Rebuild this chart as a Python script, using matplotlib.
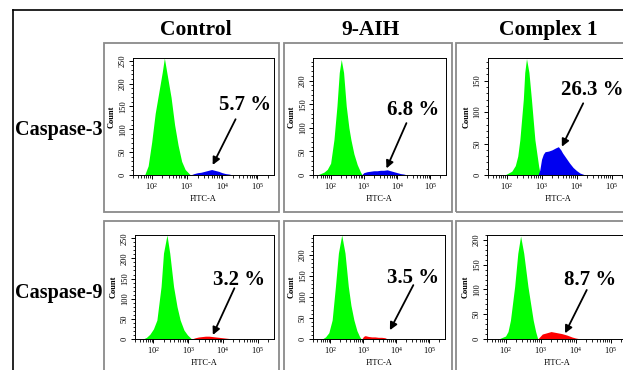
import numpy as np
import matplotlib
matplotlib.use('Agg')
import matplotlib.pyplot as plt
import matplotlib.ticker as mticker
from matplotlib.patches import Rectangle
from matplotlib.lines import Line2D

plt.rcParams['font.family'] = ['Liberation Serif', 'DejaVu Serif']
plt.rcParams['mathtext.fontset'] = 'stix'

# ---------------- data ----------------
treatments = ['Control', '9-AIH', 'Complex 1']
markers = ['Caspase-3', 'Caspase-9']
percent_labels = [['5.7 %', '6.8 %', '26.3 %'],
                  ['3.2 %', '3.5 %', '8.7 %']]

# log10(FITC-A) positions and counts, negative (green) population
c3_ctrl_neg_log = [1.80, 1.90, 2.00, 2.10, 2.20, 2.30, 2.36, 2.45, 2.55, 2.65, 2.75, 2.85, 2.95, 3.05, 3.10]
c3_ctrl_neg_cnt = [0, 20, 72, 135, 180, 225, 256, 215, 170, 110, 65, 30, 12, 4, 0]
c3_aih_neg_log = [1.60, 1.70, 1.80, 1.90, 2.00, 2.10, 2.19, 2.26, 2.32, 2.39, 2.47, 2.55, 2.61, 2.70, 2.80, 2.90, 2.95]
c3_aih_neg_cnt = [0, 3, 6, 12, 25, 75, 146, 217, 245, 217, 146, 100, 75, 45, 22, 6, 0]
c3_cx1_neg_log = [1.95, 2.05, 2.15, 2.25, 2.32, 2.38, 2.48, 2.52, 2.57, 2.64, 2.71, 2.81, 2.92, 2.97]
c3_cx1_neg_cnt = [0, 3, 6, 15, 30, 56, 121, 163, 185, 163, 121, 56, 13, 0]
c9_ctrl_neg_log = [1.70, 1.80, 1.90, 2.00, 2.10, 2.22, 2.29, 2.39, 2.47, 2.58, 2.68, 2.77, 2.88, 2.98, 3.10]
c9_ctrl_neg_cnt = [0, 4, 12, 25, 47, 130, 213, 258, 213, 130, 80, 47, 22, 10, 0]
c9_aih_neg_log = [1.75, 1.85, 1.95, 2.05, 2.15, 2.24, 2.34, 2.44, 2.54, 2.62, 2.71, 2.80, 2.88, 2.93]
c9_aih_neg_cnt = [0, 5, 15, 45, 125, 204, 247, 204, 125, 80, 45, 20, 6, 0]
c9_cx1_neg_log = [1.80, 1.90, 2.00, 2.07, 2.14, 2.26, 2.35, 2.43, 2.52, 2.64, 2.79, 2.86, 2.92]
c9_cx1_neg_cnt = [0, 3, 6, 15, 38, 106, 173, 208, 173, 106, 38, 15, 0]

# positive population (caspase-3 blue, caspase-9 red)
c3_ctrl_pos_log = [3.10, 3.20, 3.30, 3.40, 3.50, 3.60, 3.70, 3.80, 3.90, 4.00, 4.10, 4.20, 4.30]
c3_ctrl_pos_cnt = [0, 3, 5, 6, 8, 10, 12, 10, 8, 5, 3, 2, 0]
c3_aih_pos_log = [2.93, 3.00, 3.10, 3.20, 3.30, 3.40, 3.50, 3.60, 3.70, 3.80, 3.90, 4.00, 4.10, 4.20, 4.30]
c3_aih_pos_cnt = [0, 5, 7, 8, 9, 9, 10, 10, 11, 9, 7, 5, 3, 2, 0]
c3_cx1_pos_log = [2.90, 2.95, 3.00, 3.05, 3.10, 3.20, 3.30, 3.40, 3.48, 3.55, 3.60, 3.70, 3.80, 3.90, 4.00, 4.10, 4.20, 4.25]
c3_cx1_pos_cnt = [0, 8, 25, 33, 37, 38, 40, 43, 45, 40, 35, 27, 19, 12, 7, 3, 1, 0]
c9_ctrl_pos_log = [3.10, 3.20, 3.30, 3.40, 3.50, 3.60, 3.70, 3.80, 3.90, 4.00, 4.10, 4.20, 4.25]
c9_ctrl_pos_cnt = [0, 3, 5, 6, 7, 7, 6, 5, 4, 3, 2, 1, 0]
c9_aih_pos_log = [2.95, 3.00, 3.05, 3.15, 3.25, 3.35, 3.45, 3.55, 3.65, 3.73]
c9_aih_pos_cnt = [0, 6, 8, 6, 5, 5, 4, 4, 3, 0]
c9_cx1_pos_log = [2.92, 3.05, 3.15, 3.30, 3.45, 3.60, 3.75, 3.90, 4.00, 4.15]
c9_cx1_pos_cnt = [0, 10, 12, 15, 13, 11, 8, 4, 2, 0]

neg_series = [[(c3_ctrl_neg_log, c3_ctrl_neg_cnt), (c3_aih_neg_log, c3_aih_neg_cnt), (c3_cx1_neg_log, c3_cx1_neg_cnt)],
              [(c9_ctrl_neg_log, c9_ctrl_neg_cnt), (c9_aih_neg_log, c9_aih_neg_cnt), (c9_cx1_neg_log, c9_cx1_neg_cnt)]]
pos_series = [[(c3_ctrl_pos_log, c3_ctrl_pos_cnt), (c3_aih_pos_log, c3_aih_pos_cnt), (c3_cx1_pos_log, c3_cx1_pos_cnt)],
              [(c9_ctrl_pos_log, c9_ctrl_pos_cnt), (c9_aih_pos_log, c9_aih_pos_cnt), (c9_cx1_pos_log, c9_cx1_pos_cnt)]]

# ---------------- layout / style ----------------
W, H = 623, 370
fig = plt.figure(figsize=(W / 100, H / 100), dpi=100)

def fx(x):
    return x / W

def fy(y):
    return 1 - y / H

pos_colors = ['#0000f0', '#ff0000']
neg_color = '#00ff00'

# axes pixel boxes (left, right, top, bottom)
ax_boxes = [[(133, 274, 58, 175), (313, 446, 58, 175), (488, 628, 58, 175)],
            [(135, 274, 235, 339), (313, 445, 235, 339), (487, 627, 235, 339)]]
ytops = [[256, 248, 186], [258, 247, 210]]
xlim_log = (1.47, 5.47)
# annotation layout: text centre, arrow tail, arrow head (log10 x, count)
annots = [[((4.64, 153), (4.38, 122), (3.73, 22)),
           ((4.47, 138), (4.28, 110), (3.68, 14)),
           ((4.44, 135), (4.19, 114), (3.58, 45))],
          [((4.47, 146), (4.33, 126), (3.71, 10)),
           ((4.50, 145), (4.51, 128), (3.80, 21)),
           ((4.41, 119), (4.32, 99), (3.70, 11.5))]]

# gray panel frames
frame_cols = [(104, 279), (284, 452), (456, 660)]
frame_rows = [(43, 212), (221, 400)]
for (y0, y1) in frame_rows:
    for (x0, x1) in frame_cols:
        fig.patches.append(Rectangle((fx(x0), fy(y1)), fx(x1 - x0), (y1 - y0) / H,
                                     transform=fig.transFigure, fill=False,
                                     edgecolor='#8a8a8a', lw=1.3))

# outer black border
fig.lines.append(Line2D([fx(13), fx(623)], [fy(10), fy(10)], transform=fig.transFigure, color='black', lw=1.2))
fig.lines.append(Line2D([fx(13), fx(13)], [fy(10), fy(370)], transform=fig.transFigure, color='black', lw=1.2))

# titles
for name, cx in zip(treatments, [196, 370, 548]):
    fig.text(fx(cx), fy(30), name, ha='center', va='center', fontsize=15.5, fontweight='bold')
for name, cy in zip(markers, [130, 293]):
    fig.text(fx(59), fy(cy), name, ha='center', va='center', fontsize=14.5, fontweight='bold')

for r in range(2):
    for c in range(3):
        L, R, T, B = ax_boxes[r][c]
        ax = fig.add_axes([fx(L), fy(B), (R - L) / W, (B - T) / H])
        nl, nc = neg_series[r][c]
        pl, pc = pos_series[r][c]
        ax.fill_between(10 ** np.array(nl), nc, 0, color=neg_color, lw=0)
        ax.fill_between(10 ** np.array(pl), pc, 0, color=pos_colors[r], lw=0)
        ax.set_xscale('log')
        ax.set_xlim(10 ** xlim_log[0], 10 ** xlim_log[1])
        ax.set_ylim(0, ytops[r][c])
        ax.xaxis.set_major_locator(mticker.FixedLocator([1e2, 1e3, 1e4, 1e5]))
        ax.xaxis.set_major_formatter(mticker.LogFormatterMathtext())
        ax.xaxis.set_minor_locator(mticker.LogLocator(base=10, subs=np.arange(2, 10), numticks=40))
        ax.xaxis.set_minor_formatter(mticker.NullFormatter())
        ax.yaxis.set_major_locator(mticker.MultipleLocator(50))
        ax.yaxis.set_minor_locator(mticker.MultipleLocator(10))
        ax.tick_params(which='major', length=3, width=0.7, labelsize=6, pad=1.5)
        ax.tick_params(which='minor', length=1.8, width=0.6)
        ax.tick_params(axis='y', labelrotation=90)
        for lbl in ax.get_yticklabels():
            lbl.set_va('center')
        for s in ax.spines.values():
            s.set_linewidth(0.7)
        ax.set_xlabel('FITC-A', fontsize=6, labelpad=2)
        ax.set_ylabel('Count', fontsize=6, fontweight='bold', labelpad=2)
        (tx, ty), (ax0, ay0), (hx, hy) = annots[r][c]
        ax.annotate('', xy=(10 ** hx, hy), xytext=(10 ** ax0, ay0),
                    arrowprops=dict(arrowstyle='-|>', color='black', lw=1.3,
                                    mutation_scale=11, shrinkA=0, shrinkB=0))
        ax.text(10 ** tx, ty, percent_labels[r][c], ha='center', va='center',
                fontsize=15, fontweight='bold', clip_on=False)

fig.savefig('out.png', dpi=100)
